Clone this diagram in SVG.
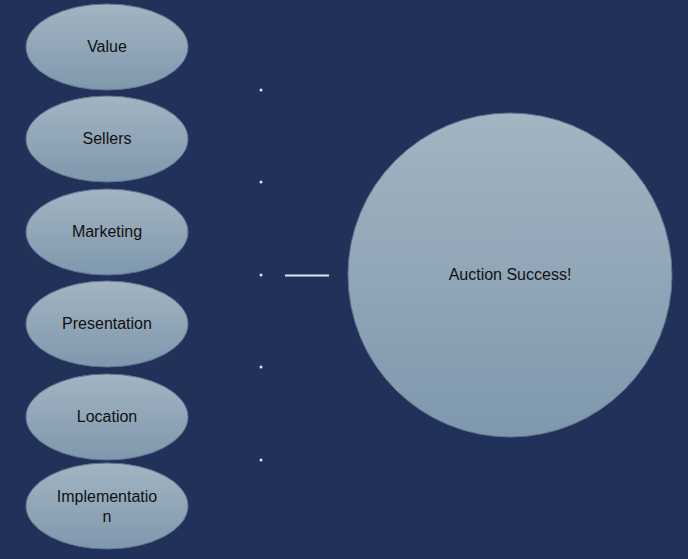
<svg xmlns="http://www.w3.org/2000/svg" width="688" height="559" viewBox="0 0 688 559">
<style>
.n{fill:url(#g);stroke:#5f7590;stroke-width:1}
.t{font-family:"Liberation Sans",Arial,sans-serif;font-size:16px;fill:#111;text-anchor:middle}
.d{fill:#dfe6ee}
</style>
<defs>
<linearGradient id="g" x1="0" y1="0" x2="0" y2="1">
<stop offset="0" stop-color="#a3b4c2"/><stop offset="1" stop-color="#7f98ad"/>
</linearGradient>
</defs>
<rect width="688" height="559" fill="#22315a"/>
<g id="connectors">
<circle class="d" cx="261" cy="90" r="1.5"/>
<circle class="d" cx="261" cy="182" r="1.5"/>
<circle class="d" cx="261" cy="275" r="1.5"/>
<circle class="d" cx="261" cy="367" r="1.5"/>
<circle class="d" cx="261" cy="460" r="1.5"/>
<line x1="285" y1="275.5" x2="329" y2="275.5" stroke="#dfe6ee" stroke-width="2"/>
</g>
<g id="value"><ellipse class="n" cx="107" cy="47" rx="81" ry="43"/><text class="t" x="107" y="52">Value</text></g>
<g id="sellers"><ellipse class="n" cx="107" cy="139" rx="81" ry="43"/><text class="t" x="107" y="144">Sellers</text></g>
<g id="marketing"><ellipse class="n" cx="107" cy="232" rx="81" ry="43"/><text class="t" x="107" y="237">Marketing</text></g>
<g id="presentation"><ellipse class="n" cx="107" cy="324" rx="81" ry="43"/><text class="t" x="107" y="329">Presentation</text></g>
<g id="location"><ellipse class="n" cx="107" cy="417" rx="81" ry="43"/><text class="t" x="107" y="422">Location</text></g>
<g id="implementation"><ellipse class="n" cx="107" cy="506" rx="81" ry="43"/><text class="t" x="107" y="502">Implementatio</text><text class="t" x="107" y="522">n</text></g>
<g id="success"><circle class="n" cx="510" cy="275" r="162"/><text class="t" x="510" y="280">Auction Success!</text></g>
</svg>
